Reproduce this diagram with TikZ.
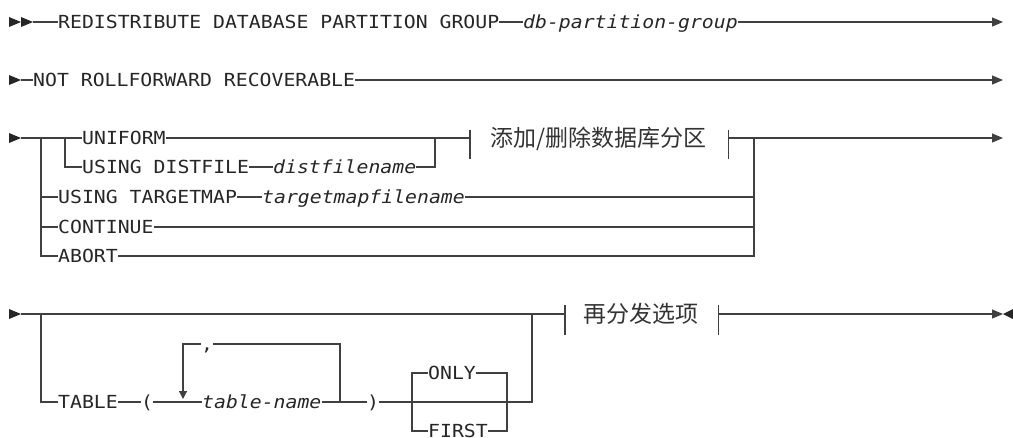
\documentclass[tikz,border=0pt]{standalone}
\usepackage{fontspec}
\newfontfamily\railfont[FakeStretch=1.1]{DejaVu Sans Mono}
\newfontfamily\cjkfont{Noto Sans CJK SC}
\usetikzlibrary{arrows.meta}

\begin{document}
\begin{tikzpicture}[x=1pt, y=-1pt, font=\railfont\fontsize{18}{20}\selectfont,
          kw/.style={inner sep=0pt, anchor=west, text height=13pt, text depth=0pt, text=black!85},
          var/.style={kw, font=\railfont\fontsize{18}{20}\selectfont\itshape},
          frag/.style={inner sep=0pt, anchor=west, text height=18pt, text depth=1pt, text=black!80, font=\cjkfont\fontsize{23}{26}\selectfont},
          rail/.style={draw=black!75, line width=1.2pt},
          arrow/.style={rail, -{Triangle[length=11pt, width=9pt]}},
          loopback/.style={rail, -{Triangle[length=8pt, width=8pt]}},
          head/.style={fill=black!85}]
        \useasboundingbox (0,0) rectangle (1013,437);

        % row 1
        \fill[head] (9,17) -- (21,22) -- (9,27) -- cycle;
        \fill[head] (21,17) -- (33,22) -- (21,27) -- cycle;
        \coordinate (r1) at (33,22);
        \coordinate (r1e) at (1003,22);
        \node [kw] (redis) at (58,22) {REDISTRIBUTE DATABASE PARTITION GROUP};
        \node [var] (dbpg) at (523,22) {db-partition-group};
        \draw [rail] (r1) -- (redis.west);
        \draw [rail] (redis.east) -- (dbpg.west);
        \draw [arrow] (dbpg.east) -- (r1e);

        % row 2
        \fill[head] (9,75) -- (21,80) -- (9,85) -- cycle;
        \coordinate (r2) at (21,80);
        \coordinate (r2e) at (1003,80);
        \node [kw] (notrf) at (33,80) {NOT ROLLFORWARD RECOVERABLE};
        \draw [rail] (r2) -- (notrf.west);
        \draw [arrow] (notrf.east) -- (r2e);

        % row 3
        \fill[head] (9,133) -- (21,138) -- (9,143) -- cycle;
        \coordinate (r3) at (21,138);
        \coordinate (j3m) at (41,138);
        \coordinate (j3a) at (65,138);
        \coordinate (j3b) at (435,138);
        \coordinate (j3c) at (754,138);
        \coordinate (r3e) at (1003,138);
        \node [kw] (uniform) at (82,138) {UNIFORM};
        \node [kw] (usingdf) at (82,167) {USING DISTFILE};
        \node [var] (distfn) at (273,167) {distfilename};
        \node [kw] (usingtm) at (58,197) {USING TARGETMAP};
        \node [var] (tmfn) at (262,197) {targetmapfilename};
        \node [kw] (cont) at (58,227) {CONTINUE};
        \node [kw] (abort) at (58,256) {ABORT};
        \node [frag] (addrem) at (490,138) {添加/删除数据库分区};
        \coordinate (b3l) at ([xshift=-20pt]addrem.west);
        \coordinate (b3r) at ([xshift=22pt]addrem.east);

        \draw [rail] (r3) -- (j3m) -- (j3a) -- (uniform.west);
        \draw [rail] (j3a) |- (usingdf.west);
        \draw [rail] (usingdf.east) -- (distfn.west);
        \draw [rail] (distfn.east) -| (j3b);
        \draw [rail] (uniform.east) -- (j3b) -- (b3l);
        \draw [rail] ([yshift=8pt]b3l) -- ([yshift=-21pt]b3l);
        \draw [rail] ([yshift=8pt]b3r) -- ([yshift=-21pt]b3r);
        \draw [rail] (j3m) |- (usingtm.west);
        \draw [rail] (j3m) |- (cont.west);
        \draw [rail] (j3m) |- (abort.west);
        \draw [rail] (usingtm.east) -- (tmfn.west);
        \draw [rail] (tmfn.east) -| (j3c);
        \draw [rail] (cont.east) -| (j3c);
        \draw [rail] (abort.east) -| (j3c);
        \draw [arrow] (b3r) -- (r3e);

        % row 4
        \fill[head] (9,309) -- (21,314) -- (9,319) -- cycle;
        \coordinate (r4) at (21,314);
        \coordinate (j4m) at (41,314);
        \coordinate (j4c) at (532,314);
        \coordinate (lp1) at (183,399);
        \coordinate (lp2) at (340,402);
        \coordinate (c1) at (412,402);
        \coordinate (c2) at (507,402);
        \coordinate (r4e) at (1003,314);
        \node [kw] (table) at (58,402) {TABLE};
        \node [kw] (lpar) at (141,402) {(};
        \node [kw] (comma) at (201,344) {,};
        \node [var] (tname) at (202,402) {table-name};
        \node [kw] (rpar) at (367,402) {)};
        \node [kw] (only) at (428,373) {ONLY};
        \node [kw] (first) at (428,431) {FIRST};
        \node [frag] (redist) at (583,314) {再分发选项};
        \coordinate (b4l) at ([xshift=-18pt]redist.west);
        \coordinate (b4r) at ([xshift=20pt]redist.east);

        \draw [rail] (r4) -- (j4m) -- (j4c) -- (b4l);
        \draw [rail] ([yshift=9pt]b4l) -- ([yshift=-21pt]b4l);
        \draw [rail] ([yshift=9pt]b4r) -- ([yshift=-21pt]b4r);
        \draw [rail] (j4m) |- (table.west);
        \draw [rail] (table.east) -- (lpar.west);
        \draw [rail] (lpar.east) -- (tname.west);
        \draw [rail] (tname.east) -- (lp2) -- (rpar.west);
        \draw [rail] (lp2) |- (comma.east);
        \draw [loopback] (comma.west) -| (lp1);
        \draw [rail] (rpar.east) -- (c1) -- (c2) -| (j4c);
        \draw [rail] (c1) |- (only.west);
        \draw [rail] (c1) |- (first.west);
        \draw [rail] (only.east) -| (c2);
        \draw [rail] (first.east) -| (c2);
        \draw [arrow] (b4r) -- (r4e);
        \fill[head] (1003,314) -- (1013,309) -- (1013,319) -- cycle;
      \end{tikzpicture}
\end{document}
